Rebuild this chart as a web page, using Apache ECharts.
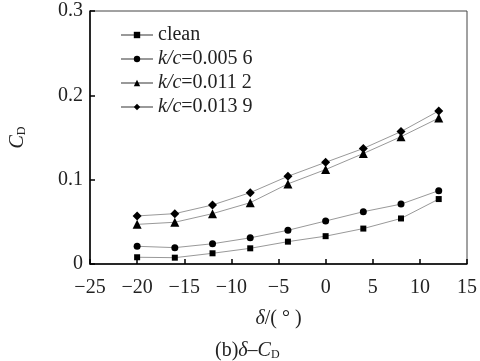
<!DOCTYPE html>
<html>
<head>
<meta charset="utf-8">
<script src="https://cdn.jsdelivr.net/npm/echarts@6/dist/echarts.min.js"></script>
<style>
  html, body { margin: 0; padding: 0; background: #fff; }
  #chart { width: 480px; height: 361px; }
</style>
</head>
<body>
<div id="chart"></div>
<script>
// 偏转角 δ
const deltaList = [-20, -16, -12, -8, -4, 0, 4, 8, 12];
const seriesNames = ['clean', 'k/c=0.005 6', 'k/c=0.011 2', 'k/c=0.013 9'];
const cleanCD = [0.008, 0.0075, 0.0127, 0.0186, 0.0265, 0.033, 0.042, 0.054, 0.077];
const kc0056CD = [0.021, 0.0194, 0.024, 0.031, 0.040, 0.051, 0.062, 0.071, 0.087];
const kc0112CD = [0.047, 0.0495, 0.0597, 0.0727, 0.095, 0.112, 0.131, 0.151, 0.173];
const kc0139CD = [0.057, 0.0597, 0.070, 0.0846, 0.104, 0.1206, 0.137, 0.157, 0.1815];
const xTicks = [-25, 15, 5];   // min, max, interval
const yTicks = [0, 0.3, 0.1];

const serif = '"Liberation Serif", "Times New Roman", serif';
const fs = 20;
const symbols = ['rect', 'circle', 'triangle', 'diamond'];
const symbolSizes = [6, 7, 9, 9];
const allData = [cleanCD, kc0056CD, kc0112CD, kc0139CD];

const myChart = echarts.init(document.getElementById('chart'));

const series = allData.map((vals, i) => ({
  name: seriesNames[i],
  type: 'line',
  data: vals.map((v, j) => [deltaList[j], v]),
  symbol: symbols[i],
  symbolSize: symbolSizes[i],
  showAllSymbol: true,
  lineStyle: { color: '#999', width: 1 },
  itemStyle: { color: '#000' },
  emphasis: { disabled: true },
  z: 3
}));

const richBase = {
  n: { fontFamily: serif, fontSize: fs, color: '#222' },
  i: { fontFamily: serif, fontSize: fs, fontStyle: 'italic', color: '#222' },
  s: { fontFamily: serif, fontSize: 12, color: '#222', padding: [7, 0, 0, 0] }
};

const option = {
  animation: false,
  backgroundColor: '#fff',
  grid: {
    left: 89, right: 12, top: 11, bottom: 97,
    show: true, borderColor: '#444', borderWidth: 1
  },
  title: {
    text: '{n|(b)}{i|δ}{n|–}{i|C}{s|D}',
    left: 210, top: 336,
    textStyle: { fontFamily: serif, fontSize: fs, fontWeight: 'normal', color: '#222', rich: richBase }
  },
  legend: {
    data: seriesNames,
    orient: 'vertical',
    left: 115, top: 20,
    itemWidth: 32, itemHeight: 8,
    itemGap: 4,
    formatter: function (name) {
      if (name.indexOf('k/c') === 0) {
        return '{i|k/c}{n|' + name.slice(3) + '}';
      }
      return '{n|' + name + '}';
    },
    textStyle: { fontFamily: serif, fontSize: fs, color: '#222', rich: richBase }
  },
  xAxis: {
    type: 'value',
    min: xTicks[0], max: xTicks[1], interval: xTicks[2],
    name: '{i|δ}{n|/( ° )}',
    nameLocation: 'middle',
    nameGap: 45,
    nameTextStyle: { fontFamily: serif, fontSize: fs, color: '#222', rich: richBase },
    axisLine: { onZero: false, lineStyle: { color: '#000', width: 1.5 } },
    axisTick: { inside: true, length: 5, lineStyle: { color: '#000', width: 1.5 } },
    axisLabel: {
      margin: 14, fontFamily: serif, fontSize: fs, color: '#222',
      formatter: v => (v < 0 ? '−' + Math.abs(v) : String(v))
    },
    splitLine: { show: false }
  },
  yAxis: {
    type: 'value',
    min: yTicks[0], max: yTicks[1], interval: yTicks[2],
    name: '{i|C}{s|D}',
    nameLocation: 'middle',
    nameRotate: 90,
    nameGap: 62,
    nameTextStyle: { fontFamily: serif, fontSize: fs, color: '#222', rich: richBase },
    axisLine: { onZero: false, lineStyle: { color: '#000', width: 1.5 } },
    axisTick: { inside: true, length: 5, lineStyle: { color: '#000', width: 1.5 } },
    axisLabel: {
      margin: 7, fontFamily: serif, fontSize: fs, color: '#222',
      formatter: v => (v === 0 ? '0' : v.toFixed(1))
    },
    splitLine: { show: false }
  },
  series: series
};

myChart.setOption(option);
</script>
</body>
</html>
